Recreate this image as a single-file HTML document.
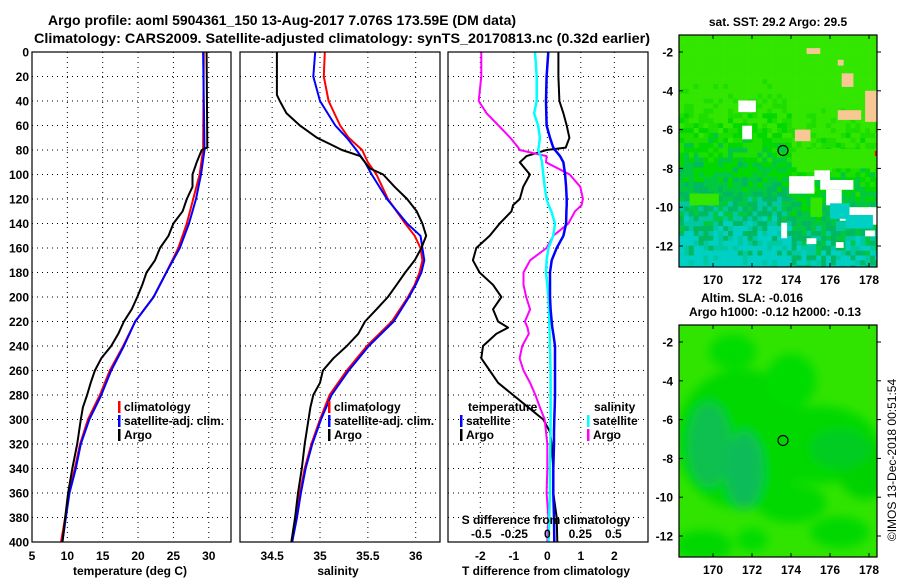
<!DOCTYPE html>
<html><head><meta charset="utf-8"><style>
html,body{margin:0;padding:0;background:#fff;}
svg{display:block;font-family:"Liberation Sans",Arial,sans-serif;font-weight:bold;}
</style></head><body>
<svg id="c" width="900" height="580" viewBox="0 0 900 580" xmlns="http://www.w3.org/2000/svg">
<text x="282" y="25" font-size="14" text-anchor="middle" textLength="468" lengthAdjust="spacingAndGlyphs">Argo profile: aoml 5904361_150 13-Aug-2017 7.076S 173.59E (DM data)</text>
<text x="342" y="43" font-size="14" text-anchor="middle" textLength="616" lengthAdjust="spacingAndGlyphs">Climatology: CARS2009. Satellite-adjusted climatology: synTS_20170813.nc (0.32d earlier)</text>
<g id="plots"></g>
<g id="maps"></g>
<text transform="translate(896,460) rotate(-90)" font-size="12" font-weight="normal" text-anchor="middle">©IMOS 13-Dec-2018 00:51:54</text>
</svg>
<script>
// ---------- data ----------
const depthT = [0,80,100,120,140,160,180,200,220,240,260,280,300,320,340,360,380,400];
const tempClim = [29.3,29.2,28.7,27.8,26.9,25.7,24.0,22.2,19.6,17.9,16.0,14.6,12.9,11.8,11.05,10.2,9.7,9.1];
const tempSat  = [29.2,29.4,28.9,28.2,27.2,25.9,24.0,22.2,19.6,18.0,16.2,14.8,13.1,11.9,11.2,10.3,9.8,9.3];
const depthTA = [0,78,80,90,100,110,120,130,140,150,160,170,180,190,200,210,220,230,240,250,260,270,280,290,300,320,340,360,380,400];
const tempArgo = [29.7,29.8,29.0,28.3,27.7,27.7,26.9,26.3,25.0,24.3,23.1,22.4,21.2,20.6,19.9,19.1,18.0,17.2,16.2,14.8,13.9,13.3,12.8,12.2,11.9,11.4,10.7,10.1,9.7,9.3];

const depthS = [0,20,40,60,70,80,90,100,120,140,150,160,170,180,190,200,220,240,260,280,300,320,340,360,380,400];
const salClim = [35.05,35.04,35.09,35.21,35.30,35.44,35.50,35.59,35.71,35.89,35.99,36.05,36.07,36.04,35.99,35.92,35.75,35.49,35.28,35.10,35.00,34.91,34.84,34.79,34.75,34.71];
const salSat  = [34.95,34.93,35.0,35.16,35.28,35.38,35.47,35.54,35.70,35.91,36.05,36.07,36.09,36.06,36.0,35.93,35.77,35.51,35.30,35.12,35.01,34.92,34.85,34.80,34.76,34.71];
const depthSA = [0,35,40,50,60,70,75,80,85,90,95,100,110,120,130,140,150,160,170,180,190,200,210,220,230,240,250,260,270,280,290,300,320,340,360,380,400];
const salArgo = [34.55,34.55,34.58,34.65,34.79,34.97,35.10,35.23,35.42,35.47,35.52,35.66,35.78,35.91,36.01,36.07,36.11,36.06,35.99,35.89,35.80,35.71,35.59,35.47,35.40,35.28,35.14,35.03,35.00,34.93,34.90,34.88,34.84,34.81,34.77,34.74,34.70];

const depthD = [0,20,40,50,60,70,78,80,85,90,100,110,120,125,130,140,150,160,170,180,190,200,210,220,225,230,240,250,260,270,280,290,300,310,320,340,360,380,400];
const dTSat  = [0.03,-0.02,-0.04,-0.03,-0.02,0.08,0.18,0.23,0.38,0.48,0.53,0.56,0.58,0.58,0.57,0.56,0.48,0.28,0.13,0.08,0.08,0.08,0.1,0.13,0.15,0.18,0.23,0.23,0.23,0.23,0.23,0.22,0.21,0.2,0.2,0.18,0.18,0.2,0.21];
const dTArgo = [0.33,0.33,0.36,0.48,0.58,0.66,0.55,-0.02,-0.62,-0.82,-0.52,-0.72,-0.82,-1.02,-1.07,-1.42,-1.72,-2.12,-2.22,-2.02,-1.62,-1.37,-1.62,-1.47,-1.17,-1.52,-1.92,-1.97,-1.72,-1.47,-1.02,-0.57,-0.12,0.08,0.13,0.18,0.18,0.28,0.30];
const dSSat  = [-0.093,-0.08,-0.08,-0.1,-0.07,-0.056,-0.065,-0.07,-0.05,-0.04,-0.03,-0.02,-0.005,0.01,0.03,0.058,0.045,0.008,-0.005,-0.01,0.0,0.008,0.012,0.015,0.016,0.018,0.02,0.022,0.024,0.025,0.025,0.025,0.025,0.024,0.023,0.02,0.02,0.015,0.01];
const dSArgo = [-0.5,-0.5,-0.52,-0.46,-0.37,-0.28,-0.22,-0.21,-0.005,-0.01,0.17,0.25,0.27,0.26,0.21,0.16,0.045,-0.005,-0.13,-0.18,-0.18,-0.16,-0.13,-0.17,-0.15,-0.14,-0.19,-0.21,-0.18,-0.13,-0.09,-0.056,-0.02,-0.01,0.0,0.0,-0.005,0.008,0.0];

const depthTicks = [0,20,40,60,80,100,120,140,160,180,200,220,240,260,280,300,320,340,360,380,400];
const tempTicks = [5,10,15,20,25,30];
const salTicks = [34.5,35,35.5,36];
const dTTicks = [-2,-1,0,1,2];
const dSTicks = [-0.5,-0.25,0,0.25,0.5];
const dSTickLabels = ['-0.5','-0.25','0','0.25','0.5'];

const lonTicks = [170,172,174,176,178];
const latTicks = [-2,-4,-6,-8,-10,-12];
const argoLon = [173.59];
const argoLat = [-7.076];

// ---------- scales ----------
const Y0 = 52, YPX = 1.225;
const yD = d => Y0 + d*YPX;
const xT = t => 32 + (t-5)*7.07;
const xS = s => 320 + (s-35)*95.7;
const xDT = t => 547.3 + t*33.5;
const xDS = s => 547.3 + s*132;

const NS = 'http://www.w3.org/2000/svg';
function mk(tag, attrs, parent){ const e=document.createElementNS(NS,tag); for(const k in attrs) e.setAttribute(k,attrs[k]); (parent||plots).appendChild(e); return e; }
const plots = document.getElementById('plots');
const maps = document.getElementById('maps');

const panels = [
  {x0:32,x1:231,name:'temperature-panel'},
  {x0:240,x1:440,name:'salinity-panel'},
  {x0:448,x1:648,name:'difference-panel'}
];
const YB = yD(400);

function vgrid(xs){ xs.forEach(x=>{ const l=mk('line',{x1:x,x2:x,y1:Y0,y2:YB,stroke:'#000','stroke-width':1,'stroke-dasharray':'1,4'});   }); }
panels.forEach(p=>{
  depthTicks.forEach(d=>{ if(d===0||d===400) return;
    const l=mk('line',{x1:p.x0,x2:p.x1,y1:yD(d),y2:yD(d),stroke:'#000','stroke-width':1,'stroke-dasharray':'1,4'});
    
    
  });
});
vgrid(tempTicks.slice(1).map(xT));
vgrid(salTicks.map(xS));
vgrid(dTTicks.map(xDT));

function series(xs, ds, fx, color, w, name){
  const pts = xs.map((v,i)=>fx(v).toFixed(1)+','+yD(ds[i]).toFixed(1)).join(' ');
  const e = mk('polyline',{points:pts,fill:'none',stroke:color,'stroke-width':w,'stroke-linejoin':'round'});
  
  
}
series(tempClim, depthT, xT, '#f00', 2, 'temp-climatology-line');
series(tempSat, depthT, xT, '#00f', 2, 'temp-satellite-line');
series(tempArgo, depthTA, xT, '#000', 2, 'temp-argo-line');
series(salClim, depthS, xS, '#f00', 2, 'salinity-climatology-line');
series(salSat, depthS, xS, '#00f', 2, 'salinity-satellite-line');
series(salArgo, depthSA, xS, '#000', 2, 'salinity-argo-line');
series(dTArgo, depthD, xDT, '#000', 2, 'tdiff-argo-line');
series(dSArgo, depthD, xDS, '#f0f', 2, 'sdiff-argo-line');
series(dSSat, depthD, xDS, '#0ff', 2.5, 'sdiff-satellite-line');
series(dTSat, depthD, xDT, '#00f', 2.5, 'tdiff-satellite-line');

panels.forEach(p=>{
  const r=mk('rect',{x:p.x0,y:Y0,width:p.x1-p.x0,height:YB-Y0,fill:'none',stroke:'#000','stroke-width':1.2});
  
  
});

function txt(s,x,y,opts){ const t=mk('text',Object.assign({x:x,y:y,'font-size':12},opts||{}),opts&&opts.parent); t.textContent=s; return t; }
depthTicks.forEach(d=>{ const t=txt(String(d),29,yD(d)+4.5,{'text-anchor':'end'});
  
   });
tempTicks.forEach(v=>{ const t=txt(String(v),xT(v),560,{'text-anchor':'middle'});
  
   });
salTicks.forEach(v=>{ const t=txt(String(v),xS(v),560,{'text-anchor':'middle'});
  
   });
dTTicks.forEach(v=>{ const t=txt(String(v),xDT(v),560,{'text-anchor':'middle'});
  
   });
dSTicks.forEach((v,i)=>{ const t=txt(dSTickLabels[i],xDS(v),538,{'text-anchor':'middle'});
  
   });
let at;
at=txt('temperature (deg C)',130,575,{'text-anchor':'middle'});  
at=txt('salinity',338,575,{'text-anchor':'middle'});  
at=txt('T difference from climatology',546,575,{'text-anchor':'middle'});  
at=txt('S difference from climatology',546,524,{'text-anchor':'middle'});  

function leg(x,y,color,label,name){
  const b=mk('rect',{x:x,y:y-10,width:2.5,height:12,fill:color});
  
  
  const t=txt(label,x+6,y);
  
  
}
leg(118,411,'#f00','climatology','legend-temp-climatology');
leg(118,425,'#00f','satellite-adj. clim.','legend-temp-satellite');
leg(118,439,'#000','Argo','legend-temp-argo');
leg(328,411,'#f00','climatology','legend-sal-climatology');
leg(328,425,'#00f','satellite-adj. clim.','legend-sal-satellite');
leg(328,439,'#000','Argo','legend-sal-argo');
at=txt('temperature',468,411);  
leg(460,425,'#00f','satellite','legend-diff-temp-satellite');
leg(460,439,'#000','Argo','legend-diff-temp-argo');
at=txt('salinity',594,411);  
leg(587,425,'#0ff','satellite','legend-diff-sal-satellite');
leg(587,439,'#f0f','Argo','legend-diff-sal-argo');

// ---------- maps ----------
const MX0=679, MX1=877;
const mLon = lo => 713 + (lo-170)*19.5;
function mapFrame(top, bottom, name, title1, title2, fill){
  const mLat = la => top + 17 + (-2-la)*19.4;
  const g = mk('g',{},maps);
  
  
  const cid = name+'-clip';
  const defs = mk('defs',{},g);
  const cp = mk('clipPath',{id:cid},defs);
  mk('rect',{x:MX0,y:top,width:MX1-MX0,height:bottom-top},cp);
  const inner = mk('g',{'clip-path':'url(#'+cid+')'},g);
  fill(inner, mLat, top, bottom, defs);
  argoLon.forEach((lo,i)=>{
    const c=mk('circle',{cx:mLon(lo),cy:mLat(argoLat[i]),r:5,fill:'none',stroke:'#000','stroke-width':1.2},g);
    
    
  });
  const fr=mk('rect',{x:MX0,y:top,width:MX1-MX0,height:bottom-top,fill:'none',stroke:'#000','stroke-width':1.2},g);
  
  
  lonTicks.forEach(lo=>{
    mk('line',{x1:mLon(lo),x2:mLon(lo),y1:top,y2:top+4,stroke:'#000'},g);
    mk('line',{x1:mLon(lo),x2:mLon(lo),y1:bottom,y2:bottom-4,stroke:'#000'},g);
    const t=txt(String(lo),mLon(lo),bottom+17,{'text-anchor':'middle',parent:g});
    
    
  });
  latTicks.forEach(la=>{
    mk('line',{x1:MX0,x2:MX0+4,y1:mLat(la),y2:mLat(la),stroke:'#000'},g);
    mk('line',{x1:MX1,x2:MX1+4,y1:mLat(la),y2:mLat(la),stroke:'#000'},g);
    const t=txt(String(la),673,mLat(la)+4.5,{'text-anchor':'end',parent:g});
    
    
  });
  if(title1){const t=txt(title1[0],title1[1],title1[2],{'text-anchor':'middle',parent:g});  }
  if(title2){const t=txt(title2[0],title2[1],title2[2],{'text-anchor':'middle',parent:g});  }
  return mLat;
}
function h(i,j){ let n=(i*374761393 + j*668265263)>>>0; n=(n^(n>>>13))*1274126177>>>0; return ((n^(n>>>16))>>>0)/4294967296; }

mapFrame(35,267,'sst-map',['sat. SST: 29.2 Argo: 29.5',778,26],null,(g,mLat,top,bottom)=>{
  const cs=4.9;
  for(let j=0;j*cs<bottom-top;j++){
    for(let i=0;i*cs<MX1-MX0;i++){
      const lat=-1.12-(j*cs)/19.4, lon=168.26+(i*cs)/19.5;
      const r=h(i,j);
      let c;
      let lvl = (-lat-1.5)/11.5 + (lon<174? 0.06:-0.06) + (r-0.5)*0.3;
      if(lvl<0.36) c='#33e600'; else if(lvl<0.48) c='#1ede00'; else if(lvl<0.6) c='#00d800';
      else if(lvl<0.74) c='#00c840'; else if(lvl<0.87) c='#00b860'; else if(lvl<0.95) c='#00c8a0'; else c='#00d0c4';
      mk('rect',{x:MX0+i*cs,y:top+j*cs,width:cs+0.3,height:cs+0.3,fill:c},g);
    }
  }
  const bright=[[174.3,-7.0,1.8,1.2],[175.5,-7.0,3.0,1.0],[175.0,-9.5,0.6,1.0],[168.8,-9.3,1.5,0.6]];
  bright.forEach(b=>mk('rect',{x:mLon(b[0]),y:mLat(b[1]),width:b[2]*19.5,height:b[3]*19.4,fill:'#33e600'},g));
  const tan=[[174.8,-1.8,0.7,0.3],[176.6,-3.1,0.6,0.7],[177.8,-4.0,0.8,1.6],[176.4,-5.0,1.2,0.5],[174.2,-6.0,0.8,0.6],[176.4,-2.4,0.3,0.3]];
  tan.forEach(b=>mk('rect',{x:mLon(b[0]),y:mLat(b[1]),width:b[2]*19.5,height:b[3]*19.4,fill:'#f8c894'},g));
  const wh=[[171.3,-4.5,0.9,0.6],[171.5,-5.8,0.5,0.7],[173.9,-8.4,1.3,0.9],[175.2,-8.1,0.8,0.5],[175.5,-8.6,1.7,0.5],[175.8,-9.1,0.8,0.8],[176.5,-10.0,1.6,0.7],[178.0,-10.0,0.8,0.9],[173.5,-10.8,0.3,0.8],[174.8,-11.6,0.5,0.3],[176.3,-11.8,0.4,0.3],[177.8,-11.2,0.5,0.3]];
  wh.forEach(b=>mk('rect',{x:mLon(b[0]),y:mLat(b[1]),width:b[2]*19.5,height:b[3]*19.4,fill:'#fff'},g));
  const cy=[[176.0,-9.8,1.0,0.8],[176.8,-10.4,1.4,0.7]];
  cy.forEach(b=>mk('rect',{x:mLon(b[0]),y:mLat(b[1]),width:b[2]*19.5,height:b[3]*19.4,fill:'#00d0c4'},g));
  mk('rect',{x:mLon(178.3),y:mLat(-7.1),width:5,height:5,fill:'#f00'},g);
});

mapFrame(325,557,'sla-map',['Altim. SLA: -0.016',752,302],['Argo h1000: -0.12 h2000: -0.13',775,316],(g,mLat,top,bottom,defs)=>{
  const f=mk('filter',{id:'blr',x:'-50%',y:'-50%',width:'200%',height:'200%'},defs);
  mk('feGaussianBlur',{stdDeviation:5},f);
  mk('rect',{x:MX0,y:top,width:MX1-MX0,height:bottom-top,fill:'#30e400'},g);
  const bl=mk('g',{filter:'url(#blr)'},g);
  const blobs=[[171.5,-7,3.4,3.6,'#00d800'],[175.5,-7.3,3.0,2.0,'#00d800'],[174,-4,1.3,1.4,'#00dc00'],[177.8,-8.5,1.4,1.6,'#00d200'],[176.5,-7.5,1.5,1.0,'#00cc20'],[169.8,-7.3,1.1,2.2,'#10c050'],[171.6,-8.6,1.0,2.0,'#10bc58'],[174,-10.3,1.8,1.0,'#00d800'],[171,-2.5,1.2,0.9,'#00dc00'],[176.5,-11.8,1.5,0.8,'#00d800'],[169.5,-12.5,1.5,0.8,'#00d800'],[172,-12.2,0.8,0.6,'#00dc00']];
  blobs.forEach(b=>mk('ellipse',{cx:mLon(b[0]),cy:mLat(b[1]),rx:b[2]*19.5,ry:b[3]*19.4,fill:b[4]},bl));
});
</script>
</body></html>
